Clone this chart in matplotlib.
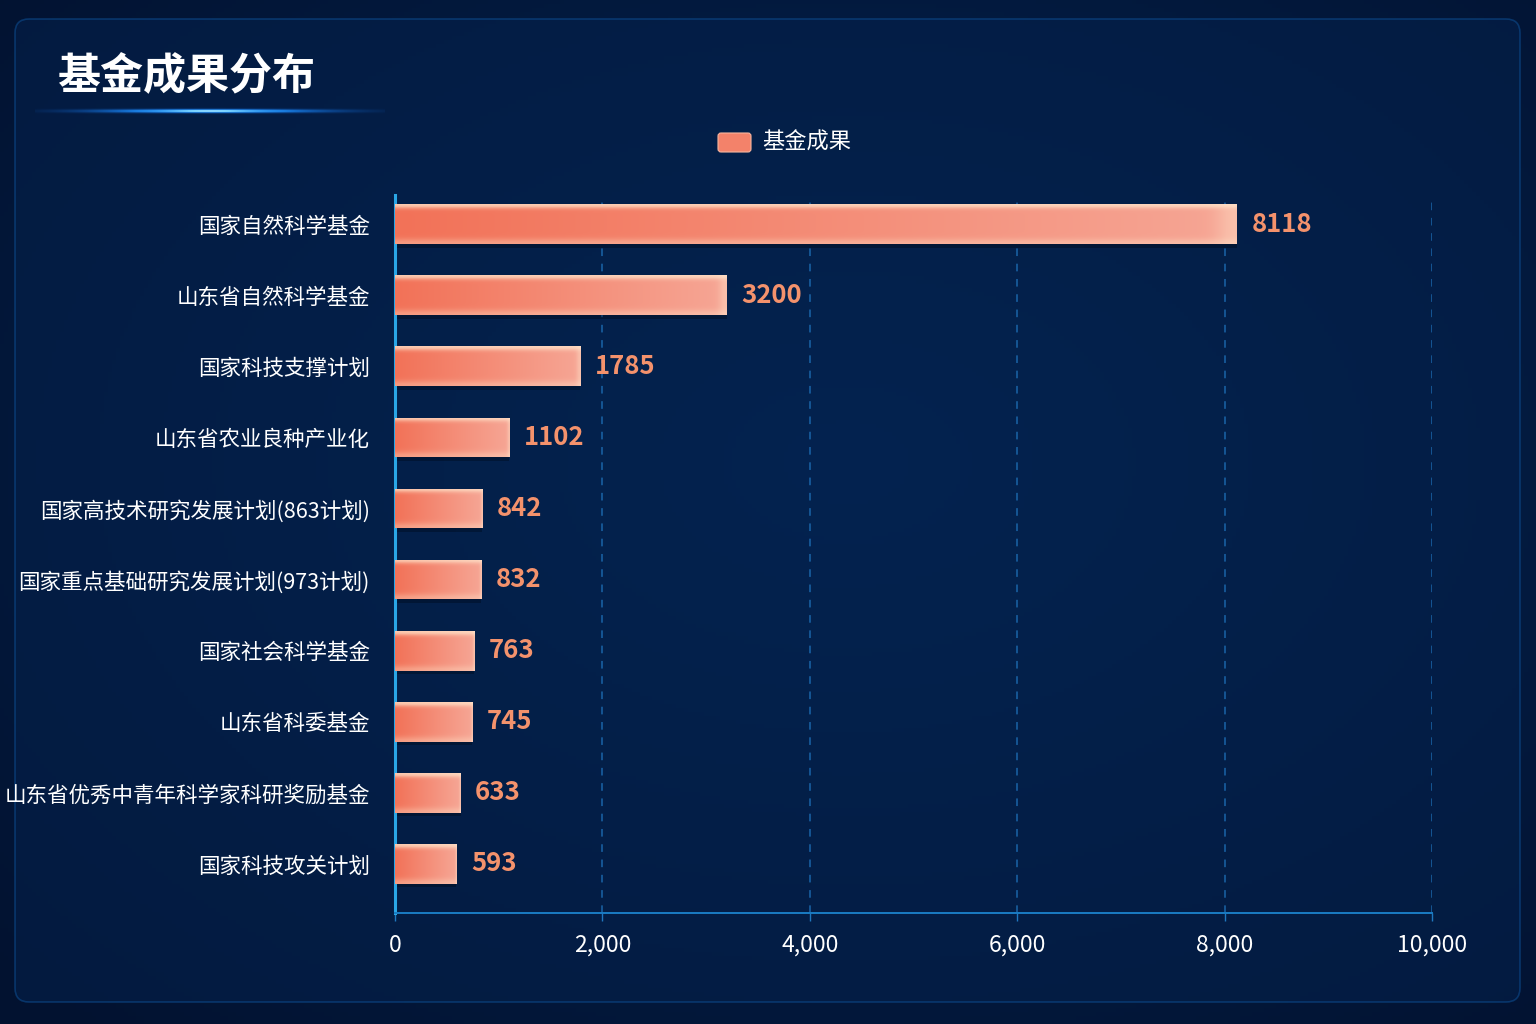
import matplotlib
matplotlib.use("Agg")
import matplotlib.pyplot as plt
import numpy as np
from matplotlib.patches import FancyBboxPatch, Rectangle
from matplotlib.ticker import FuncFormatter

plt.rcParams['font.family'] = ['Noto Sans CJK SC', 'DejaVu Sans']

# data
categories = ["国家自然科学基金", "山东省自然科学基金", "国家科技支撑计划", "山东省农业良种产业化",
              "国家高技术研究发展计划(863计划)", "国家重点基础研究发展计划(973计划)",
              "国家社会科学基金", "山东省科委基金", "山东省优秀中青年科学家科研奖励基金",
              "国家科技攻关计划"]
values = [8118, 3200, 1785, 1102, 842, 832, 763, 745, 633, 593]
x_ticks = [0, 2000, 4000, 6000, 8000, 10000]
title = "基金成果分布"
series_name = "基金成果"

W, H = 1536, 1024
fig = plt.figure(figsize=(W / 100, H / 100), dpi=100)

# background
bg = fig.add_axes([0, 0, 1, 1])
bg.set_xlim(0, W)
bg.set_ylim(H, 0)
bg.axis("off")
yy, xx = np.mgrid[0:H:4, 0:W:4]
r = np.hypot((xx - W * 0.55) / W, (yy - H * 0.45) / H)
t = np.clip(r / 0.75, 0, 1)[..., None]
inner = np.array([0x03, 0x26, 0x55]) / 255
outer = np.array([0x02, 0x12, 0x30]) / 255
bg.imshow(inner * (1 - t) + outer * t, extent=[0, W, H, 0], aspect="auto", zorder=0)

panel = FancyBboxPatch((15, 19), 1505, 983, boxstyle="round,pad=0,rounding_size=14",
                       facecolor="#04214c", edgecolor="#0d4f94", linewidth=1.2,
                       alpha=0.55, zorder=1)
bg.add_patch(panel)

# title and glow line
bg.text(57, 76, title, color="white", fontsize=31, fontweight="bold",
        va="center", ha="left", zorder=5)
glow = np.zeros((11, 350, 4))
px = np.linspace(-1, 1, 350)
py = np.linspace(-1, 1, 11)
along = np.exp(-(px / 0.6) ** 2)
across = np.exp(-(py / 0.3) ** 2)
intensity = along[None, :] * across[:, None]
core = np.exp(-(px / 0.25) ** 2)[None, :] * np.exp(-(py / 0.15) ** 2)[:, None]
glow[..., 0] = np.clip(0.1 + 0.7 * core, 0, 1)
glow[..., 1] = np.clip(0.5 + 0.45 * core + 0.1 * intensity, 0, 1)
glow[..., 2] = 1.0
glow[..., 3] = np.clip(intensity * 1.4 + 0.25 * across[:, None] * (1 - np.abs(px))[None, :], 0, 1)
bg.imshow(glow, extent=[35, 385, 117, 105], aspect="auto", zorder=4,
          interpolation="bilinear")

# legend
bg.add_patch(FancyBboxPatch((718, 133), 33, 19, boxstyle="round,pad=0,rounding_size=3",
                            facecolor="#f3826a", edgecolor="#f8b59e", linewidth=0.8, zorder=5))
bg.text(762, 142, series_name, color="white", fontsize=16, va="center", ha="left", zorder=5)

# main axes
ax = fig.add_axes([395 / W, 1 - 913 / H, (1432 - 395) / W, (913 - 195) / H])
ax.set_facecolor("none")
ypos = np.arange(len(categories))
bar_h = 0.56
bars = ax.barh(ypos, values, height=bar_h, color="#f3806a", zorder=3)

c0 = np.array([0xf2, 0x72, 0x58]) / 255
c1 = np.array([0xf6, 0xa6, 0x95]) / 255
hl = np.array([0xff, 0xe6, 0xcc]) / 255
for b, v, y in zip(bars, values, ypos):
    nx, ny = 120, 24
    hx = np.linspace(0, 1, nx)[None, :, None]
    img = c0 * (1 - hx) + c1 * hx
    img = np.repeat(img, ny, axis=0)
    vy = np.linspace(0, 1, ny)
    top = np.exp(-(vy / 0.09) ** 2)[:, None, None]
    bot = np.exp(-((1 - vy) / 0.12) ** 2)[:, None, None]
    img = img * (1 - 0.75 * top) + hl * 0.75 * top
    img = img * (1 - 0.35 * bot) + hl * 0.35 * bot
    rgt = np.exp(-((1 - np.linspace(0, 1, nx)) / 0.02) ** 2)[None, :, None]
    img = img * (1 - 0.4 * rgt) + hl * 0.4 * rgt
    im = ax.imshow(img, extent=[0, v, y + bar_h / 2, y - bar_h / 2],
                   aspect="auto", zorder=4, interpolation="bilinear")
    im.set_clip_path(b)
    # soft shadow under bar
    ax.add_patch(Rectangle((0, y + bar_h / 2), v, 0.05, facecolor="#000814",
                           alpha=0.35, zorder=2, linewidth=0))
    ax.text(v + 140, y, str(v), color="#f4926c", fontsize=18.5, fontweight="bold",
            va="center", ha="left", zorder=5)

ax.set_xlim(0, 10000)
ax.set_ylim(len(categories) - 1 + 0.69, -0.41)
ax.set_yticks(ypos)
ax.set_yticklabels(categories, color="white", fontsize=15.5)
ax.set_xticks(x_ticks)
ax.xaxis.set_major_formatter(FuncFormatter(lambda x, p: f"{int(x):,}"))
ax.tick_params(axis="x", colors="white", labelsize=16.5, length=6, width=1,
               color="#1f78c0", pad=9)
ax.tick_params(axis="y", length=0, pad=18)
for lab in ax.get_xticklabels():
    lab.set_color("white")

ax.grid(axis="x", linestyle=(0, (5, 5)), color="#1a64a8", linewidth=1.1, zorder=1)
ax.grid(axis="y", visible=False)
ax.spines["top"].set_visible(False)
ax.spines["right"].set_visible(False)
ax.spines["left"].set_color("#2aa6e6")
ax.spines["left"].set_linewidth(2.2)
ax.spines["bottom"].set_color("#1a7cc4")
ax.spines["bottom"].set_linewidth(1.4)
ax.set_axisbelow(True)

fig.savefig("out.png", dpi=100, facecolor="#021430")
